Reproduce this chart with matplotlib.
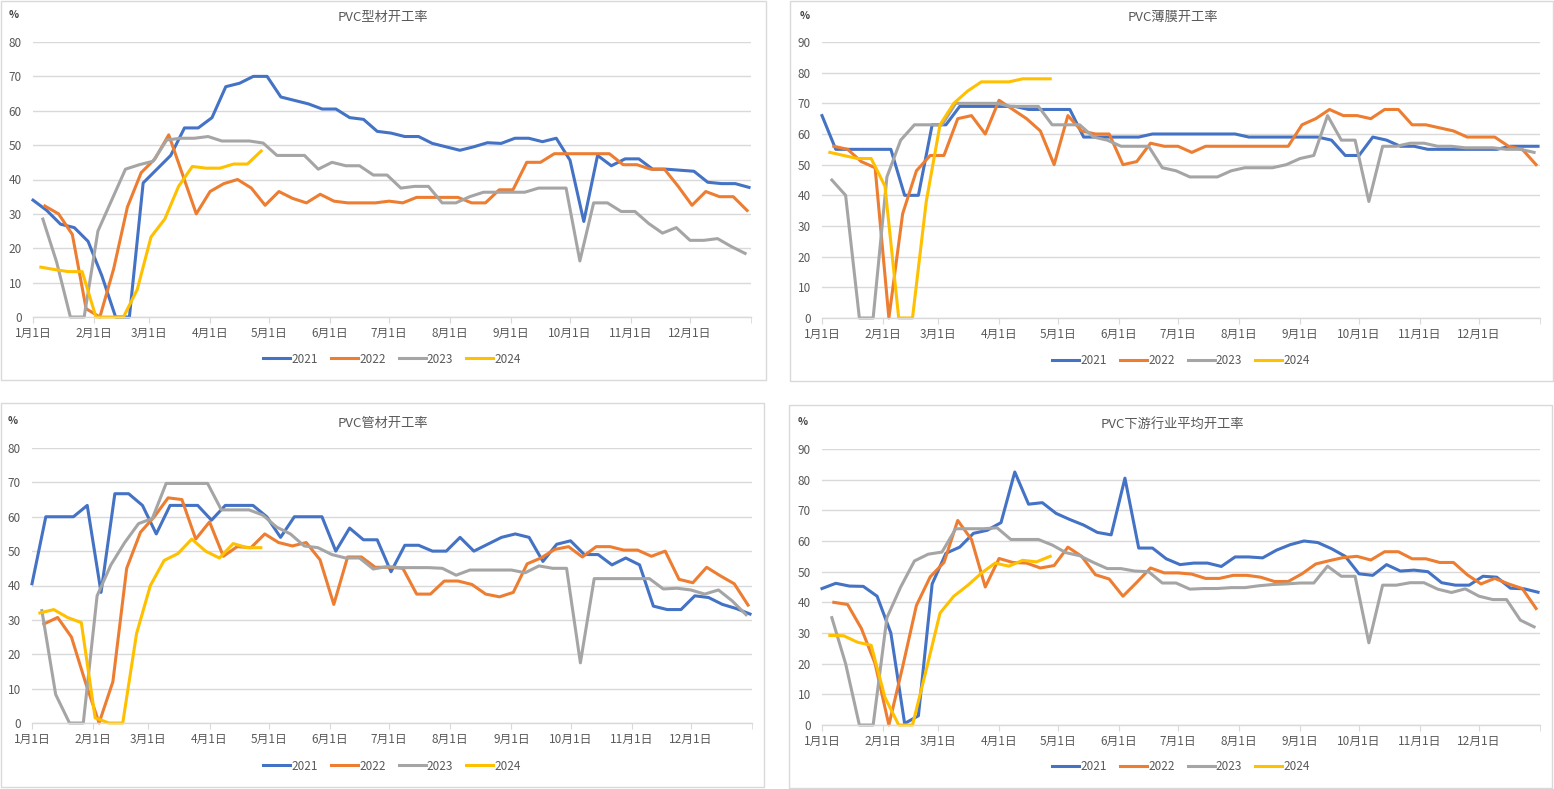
import numpy as np
import pandas as pd
import matplotlib
matplotlib.use("Agg")
from matplotlib import pyplot as plt
from matplotlib.patches import Rectangle

plt.rcParams['font.family'] = ['Noto Sans CJK SC', 'DejaVu Sans']

# ---- data (weekly, Friday) ----
years = ['2021', '2022', '2023', '2024']
starts = ['2021-01-01', '2022-01-07', '2023-01-06', '2024-01-05']
colors = ['#4472C4', '#ED7D31', '#A5A5A5', '#FFC000']

month_labels = ['1月1日', '2月1日', '3月1日', '4月1日', '5月1日', '6月1日',
                '7月1日', '8月1日', '9月1日', '10月1日', '11月1日', '12月1日']
month_starts = pd.date_range('2021-01-01', periods=12, freq='MS')

# PVC型材开工率
profile_2021 = [34, 31, 27, 26, 22, 12, 0, 0, 39, 43, 47, 55, 55, 58, 67, 68, 70, 70, 64, 63,
                62, 60.5, 60.5, 58, 57.5, 54, 53.5, 52.5, 52.5, 50.5, 49.5, 48.5, 49.5, 50.7, 50.5,
                52, 52, 51, 52, 45.6, 27.8, 47, 44, 46, 46, 43, 43, 42.7, 42.4, 39.2, 38.8, 38.8, 37.7]
profile_2022 = [32.3, 30, 24, 2.4, 0, 14, 32, 42, 46, 53, 41.5, 30, 36.5, 38.8, 40, 37.5, 32.5,
                36.5, 34.5, 33.2, 35.7, 33.7, 33.2, 33.2, 33.2, 33.7, 33.2, 34.8, 34.8, 34.8, 34.8,
                33.2, 33.2, 37, 37, 45, 45, 47.5, 47.5, 47.5, 47.5, 47.5, 44.3, 44.3, 43, 43, 38,
                32.5, 36.5, 35, 35, 31]
profile_2023 = [28.5, 16, 0, 0, 25, 34, 43, 44.3, 45.3, 51.5, 52, 52, 52.5, 51.2, 51.2, 51.2, 50.6,
                47, 47, 47, 43, 45, 44, 44, 41.3, 41.3, 37.5, 38, 38, 33.2, 33.2, 35, 36.3, 36.3,
                36.3, 36.3, 37.5, 37.5, 37.5, 16.3, 33.2, 33.2, 30.7, 30.7, 27.2, 24.4, 26, 22.3,
                22.3, 22.8, 20.5, 18.5]
profile_2024 = [14.5, 13.8, 13.2, 13.2, 0, 0, 0, 8, 23.3, 28.5, 38, 43.8, 43.3, 43.3, 44.5, 44.5, 48.3]

# PVC薄膜开工率
film_2021 = [66, 55, 55, 55, 55, 55, 40, 40, 63, 63, 69, 69, 69, 69, 69, 68, 68, 68, 68, 59,
             59, 59, 59, 59, 60, 60, 60, 60, 60, 60, 60, 59, 59, 59, 59, 59, 59, 58, 53, 53,
             59, 58, 56, 56, 55, 55, 55, 55, 55, 55, 56, 56, 56]
film_2022 = [56, 55, 51, 49, 0, 34, 48, 53, 53, 65, 66, 60, 71, 68, 65, 61, 50, 66, 61, 60,
             60, 50, 51, 57, 56, 56, 54, 56, 56, 56, 56, 56, 56, 56, 63, 65, 68, 66, 66, 65,
             68, 68, 63, 63, 62, 61, 59, 59, 59, 56, 55, 50]
film_2023 = [45, 40, 0, 0, 46, 58, 63, 63, 63, 70, 70, 70, 70, 69, 69, 69, 63, 63, 63, 59,
             58, 56, 56, 56, 49, 48, 46, 46, 46, 48, 49, 49, 49, 50, 52, 53, 66, 58, 58, 38,
             56, 56, 57, 57, 56, 56, 55.5, 55.5, 55.5, 55, 55, 54]
film_2024 = [54, 53, 52, 52, 43, 0, 0, 38, 63, 70, 74, 77, 77, 77, 78, 78, 78]

# PVC管材开工率
pipe_2021 = [40.5, 60, 60, 60, 63.3, 38, 66.7, 66.7, 63.3, 55, 63.3, 63.3, 63.3, 59, 63.3, 63.3,
             63.3, 60, 54, 60, 60, 60, 50, 56.7, 53.3, 53.3, 44, 51.7, 51.7, 50, 50, 54, 50, 52,
             54, 55, 54, 47, 52, 53, 49, 49, 46, 48, 46, 34, 33, 33, 37, 36.5, 34.5, 33.3, 31.7]
pipe_2022 = [28.8, 30.7, 25, 12, 0, 12, 45, 55.5, 60, 65.5, 65, 53.5, 58.5, 48.5, 51.3, 51, 55,
             52.5, 51.5, 52.5, 47.5, 34.5, 48.3, 48.3, 45.3, 45.3, 45, 37.5, 37.5, 41.3, 41.3,
             40.3, 37.5, 36.7, 38, 46.3, 48, 50.5, 51.3, 48.3, 51.3, 51.3, 50.3, 50.3, 48.5, 50,
             41.8, 40.8, 45.3, 42.8, 40.5, 34.3]
pipe_2023 = [32.7, 8.3, 0, 0, 37, 46, 52.5, 58, 59.5, 69.7, 69.7, 69.7, 69.7, 62, 62, 62, 60.5,
             57, 55, 51.5, 51, 49, 48, 48, 44.8, 45.5, 45.2, 45.2, 45.2, 45, 43, 44.5, 44.5, 44.5,
             44.5, 43.7, 45.7, 45, 45, 17.5, 42, 42, 42, 42, 42, 39, 39.2, 38.7, 37.5, 38.7,
             35.5, 31.5]
pipe_2024 = [32, 33, 30.7, 29.2, 1.5, 0, 0, 26, 40, 47.3, 49.3, 53.5, 50, 48, 52.2, 51, 51]

# PVC下游行业平均开工率
avg_2021 = [44.5, 46.2, 45.3, 45.2, 42, 30, 0.5, 3, 46, 56, 58, 62.5, 63.5, 66, 82.5, 72, 72.5,
            69, 67, 65.2, 62.8, 62, 80.5, 57.7, 57.7, 54.2, 52.3, 52.8, 52.8, 51.7, 54.8, 54.8,
            54.5, 57, 58.8, 60, 59.5, 57.5, 55, 49.3, 48.8, 52.3, 50.2, 50.5, 50, 46.4, 45.6,
            45.6, 48.5, 48.2, 44.6, 44.4, 43.3]
avg_2022 = [40, 39.3, 31.5, 20, 0, 19, 39, 48.3, 53, 66.7, 60.5, 45, 54.3, 53, 52.8, 51.2, 52,
            58, 55, 49, 47.6, 42, 46.5, 51.2, 49.6, 49.6, 49.2, 47.8, 47.8, 48.8, 48.8, 48.2,
            46.8, 46.8, 49.3, 52.5, 53.6, 54.6, 55, 53.8, 56.5, 56.5, 54.2, 54.2, 53, 53, 49,
            46, 47.8, 46, 44.5, 38]
avg_2023 = [35, 20, 0, 0, 35, 45, 53.5, 55.7, 56.4, 64, 64, 64, 64.3, 60.5, 60.5, 60.5, 58.7,
            56.2, 55.2, 53, 51, 51, 50.2, 50, 46.3, 46.3, 44.3, 44.5, 44.5, 44.8, 44.8, 45.4,
            45.8, 46, 46.3, 46.3, 51.8, 48.5, 48.5, 26.8, 45.6, 45.6, 46.4, 46.4, 44.3, 43.2,
            44.4, 42, 40.9, 40.9, 34.2, 32]
avg_2024 = [29.2, 29.1, 27, 26, 9, 0, 0, 18, 36.5, 42, 45.5, 49.5, 52.8, 51.8, 53.7, 53.2, 55]

GRID = '#D9D9D9'
TXT = '#595959'


def day_offsets(start, n):
    d = pd.date_range(start, periods=n, freq='7D')
    jan1 = pd.Timestamp(start[:4] + '-01-01')
    return (d - jan1).days.values


def draw_panel(ax, title, ymax, series, title_xy, pct_xy, legend_y):
    for s, start, c, yr in zip(series, starts, colors, years):
        ax.plot(day_offsets(start, len(s)), s, color=c, lw=2.2, label=yr,
                solid_joinstyle='round', clip_on=False)
    ax.set_xlim(0, 365)
    ax.set_ylim(0, ymax)
    ax.set_yticks(np.arange(0, ymax + 1, 10))
    ticks = (month_starts - pd.Timestamp('2021-01-01')).days.values
    ax.set_xticks(ticks)
    ax.set_xticklabels(month_labels)
    ax.set_xticks([365], minor=True)
    ax.grid(axis='y', color=GRID, lw=1)
    ax.set_axisbelow(True)
    for sp in ['top', 'right', 'left']:
        ax.spines[sp].set_visible(False)
    ax.spines['bottom'].set_color(GRID)
    ax.spines['bottom'].set_linewidth(1)
    ax.tick_params(axis='y', length=0, pad=8, labelsize=8.5, labelcolor=TXT)
    ax.tick_params(axis='x', which='both', length=4, color=GRID, pad=3,
                   labelsize=8.5, labelcolor=TXT)
    fig.text(title_xy[0] / W, 1 - title_xy[1] / H, title, ha='center', va='center',
             fontsize=9.5, color=TXT)
    fig.text(pct_xy[0] / W, 1 - pct_xy[1] / H, '%', ha='center', va='center',
             fontsize=7.5, color='#404040', fontweight='bold')
    ax.legend(loc='center', bbox_to_anchor=(0.5, legend_y), ncol=4, frameon=False,
              fontsize=8.5, labelcolor=TXT, handlelength=2.3, handletextpad=0.1,
              columnspacing=1.1)


W, H = 1554, 789
fig = plt.figure(figsize=(W / 100, H / 100), dpi=100)

# panel frames (pixels: x0, y0, x1, y1)
for x0, y0, x1, y1 in [(0.5, 0.5, 766, 380), (790, 0.5, 1553, 381),
                       (0.5, 403, 764, 787), (789, 405, 1552, 788)]:
    fig.add_artist(Rectangle((x0 / W, 1 - y1 / H), (x1 - x0) / W, (y1 - y0) / H,
                             transform=fig.transFigure, fill=False, ec=GRID, lw=1))


def add_ax(x0, x1, ytop, ybot):
    return fig.add_axes([x0 / W, 1 - ybot / H, (x1 - x0) / W, (ybot - ytop) / H])


ax1 = add_ax(33, 751, 42, 317)
ax2 = add_ax(822, 1540, 42, 318)
ax3 = add_ax(32, 752, 448, 723)
ax4 = add_ax(822, 1540, 449, 725)

draw_panel(ax1, 'PVC型材开工率', 80, [profile_2021, profile_2022, profile_2023, profile_2024],
           (383, 17), (14, 15), -42 / 275)
draw_panel(ax2, 'PVC薄膜开工率', 90, [film_2021, film_2022, film_2023, film_2024],
           (1173, 17), (805, 16), -43 / 276)
draw_panel(ax3, 'PVC管材开工率', 80, [pipe_2021, pipe_2022, pipe_2023, pipe_2024],
           (383, 423), (13, 421), -43 / 275)
draw_panel(ax4, 'PVC下游行业平均开工率', 90, [avg_2021, avg_2022, avg_2023, avg_2024],
           (1172, 424), (803, 422), -42 / 276)

fig.savefig('out.png', dpi=100)
